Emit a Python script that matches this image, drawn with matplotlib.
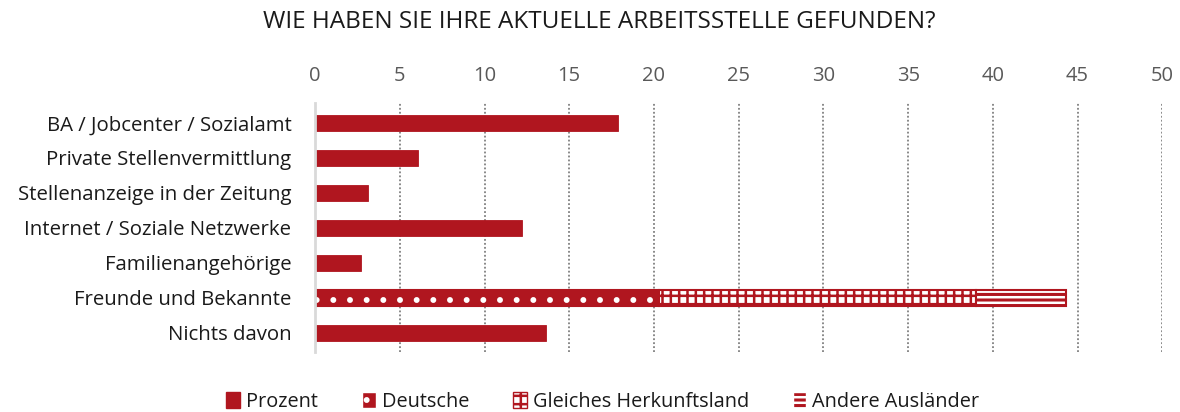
import matplotlib
matplotlib.use("Agg")
import matplotlib.pyplot as plt
import numpy as np
from matplotlib.patches import Patch

plt.rcParams['font.family'] = ['Open Sans', 'DejaVu Sans']
plt.rcParams['hatch.linewidth'] = 1.8

# Daten
kategorien = ['BA / Jobcenter / Sozialamt', 'Private Stellenvermittlung',
              'Stellenanzeige in der Zeitung', 'Internet / Soziale Netzwerke',
              'Familienangehörige', 'Freunde und Bekannte', 'Nichts davon']
prozent = [17.9, 6.1, 3.1, 12.2, 2.7, 0, 13.6]
deutsche = [0, 0, 0, 0, 0, 20.3, 0]
gleiches_land = [0, 0, 0, 0, 0, 18.7, 0]
andere_auslaender = [0, 0, 0, 0, 0, 5.3, 0]
x_ticks = [0, 5, 10, 15, 20, 25, 30, 35, 40, 45, 50]

rot = '#B0161F'
textfarbe = '#1A1A1A'

fig = plt.figure(figsize=(11.8, 4.12), dpi=100)
ax = fig.add_axes([0.267, 0.146, 0.718, 0.604])

y = np.arange(len(kategorien))
h = 0.45

ax.barh(y, prozent, height=h, color=rot, edgecolor=rot, linewidth=0.6)

# gestapelte Balken mit Mustern
links = np.zeros(len(kategorien))
serien = [(deutsche, rot, 'white', '.'),
          (gleiches_land, 'white', rot, '++'),
          (andere_auslaender, rot, 'white', '---')]
for werte, fuell, hfarbe, muster in serien:
    werte = np.array(werte)
    ax.barh(y, werte, left=links, height=h, color=fuell, edgecolor=hfarbe,
            hatch=muster, linewidth=0)
    ax.barh(y[werte > 0], werte[werte > 0], left=links[werte > 0], height=h,
            fill=False, edgecolor=rot, linewidth=1.5)
    links = links + werte

ax.set_xlim(0, 50)
ax.set_ylim(6.54, -0.57)
ax.set_xticks(x_ticks)
ax.set_yticks(y)
ax.set_yticklabels(kategorien)
ax.xaxis.tick_top()
ax.tick_params(axis='x', length=0, pad=12, labelsize=14.5, labelcolor='#595959')
ax.tick_params(axis='y', length=0, pad=17, labelsize=14.7, labelcolor=textfarbe)

for s in ['top', 'right', 'bottom']:
    ax.spines[s].set_visible(False)
ax.spines['left'].set_color('#D9D9D9')
ax.spines['left'].set_linewidth(2)

for xv in x_ticks[1:]:
    ax.axvline(xv, color='#808080', linestyle=(0, (1, 1.2)), linewidth=1.3, zorder=0)

fig.suptitle('WIE HABEN SIE IHRE AKTUELLE ARBEITSSTELLE GEFUNDEN?', x=0.508, y=0.975,
             fontsize=17.5, color=textfarbe)

handles = [Patch(facecolor=rot, edgecolor=rot),
           Patch(facecolor=rot, edgecolor='white', hatch='.'),
           Patch(facecolor='white', edgecolor=rot, hatch='++'),
           Patch(facecolor=rot, edgecolor='white', hatch='---')]
labels = ['Prozent', 'Deutsche', 'Gleiches Herkunftsland', 'Andere Ausländer']
fig.legend(handles, labels, loc='center', bbox_to_anchor=(0.511, 0.025), ncol=4,
           frameon=False, fontsize=14.3, handlelength=0.7, handleheight=0.9,
           handletextpad=0.3, columnspacing=2.2, labelcolor=textfarbe)

fig.savefig('out.png', dpi=100)
